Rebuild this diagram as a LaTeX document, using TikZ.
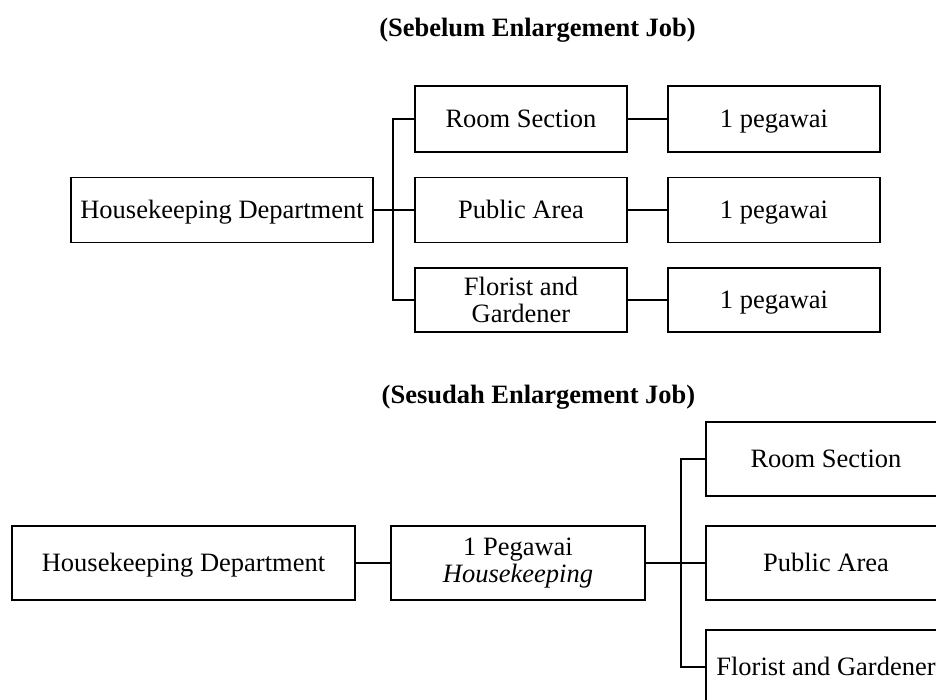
\documentclass[tikz,border=0pt]{standalone}
\usepackage{fontspec}
\setmainfont{Liberation Serif}
\begin{document}
\begin{tikzpicture}[x=1pt,y=-1pt,
  box/.style={draw, line width=1.8pt, inner sep=0pt, align=center,
    font=\fontsize{26.5}{27.5}\selectfont},
  one/.style={text height=17.5pt, text depth=0pt},
  link/.style={line width=1.8pt},
  ttl/.style={font=\bfseries\fontsize{26.5}{28}\selectfont, inner sep=0pt,
    text height=17.5pt, text depth=0pt}]
\useasboundingbox (0,0) rectangle (936,700);
\clip (0,0) rectangle (936,700);
% titles
\node[ttl] (t1) at (537.5,27.5) {(Sebelum Enlargement Job)};
\node[ttl] (t2) at (538.5,395) {(Sesudah Enlargement Job)};
% top chart
\node[box, one, minimum width=302, minimum height=65] (hd1) at (222,210) {Housekeeping Department};
\node[box, one, minimum width=212, minimum height=66] (rs1) at (521,119) {Room Section};
\node[box, one, minimum width=212, minimum height=65] (pa1) at (521,210) {Public Area};
\node[box, minimum width=212, minimum height=64] (fl1) at (521,300) {Florist and\\Gardener};
\node[box, one, minimum width=212, minimum height=66] (pg1) at (774,119) {1 pegawai};
\node[box, one, minimum width=212, minimum height=65] (pg2) at (774,210) {1 pegawai};
\node[box, one, minimum width=212, minimum height=64] (pg3) at (774,300) {1 pegawai};
\coordinate (b1) at (393,210);
\draw[link] (hd1.east) -- (b1);
\draw[link] (rs1.west) -| (b1) |- (fl1.west);
\draw[link] (b1) -- (pa1.west);
\draw[link] (rs1.east) -- (pg1.west);
\draw[link] (pa1.east) -- (pg2.west);
\draw[link] (fl1.east) -- (pg3.west);
% bottom chart
\node[box, one, minimum width=343, minimum height=74] (hd2) at (183.5,563) {Housekeeping Department};
\node[box, minimum width=254, minimum height=74] (hk) at (518,563) {1 Pegawai\\\textit{Housekeeping}};
\node[box, one, minimum width=240, minimum height=74] (rs2) at (826,459) {Room Section};
\node[box, one, minimum width=240, minimum height=74] (pa2) at (826,563) {Public Area};
\node[box, one, minimum width=240, minimum height=74] (fl2) at (826,667) {Florist and Gardener};
\coordinate (b2) at (681,563);
\draw[link] (hd2.east) -- (hk.west);
\draw[link] (hk.east) -- (b2);
\draw[link] (rs2.west) -| (b2) |- (fl2.west);
\draw[link] (b2) -- (pa2.west);
\end{tikzpicture}
\end{document}
